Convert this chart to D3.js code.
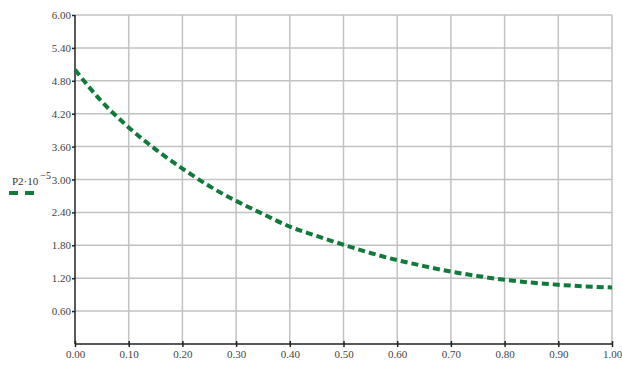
<!DOCTYPE html>
<html>
<head>
<meta charset="utf-8">
<script src="https://cdn.jsdelivr.net/npm/d3@7"></script>
<style>
  html, body { margin: 0; padding: 0; background: #fff; }
  svg { display: block; }
  .tick text { font-family: "Liberation Serif", "DejaVu Serif", serif; font-size: 11px; fill: #444; }
</style>
</head>
<body>
<svg id="chart" width="622" height="365"></svg>
<script>
// Argument values and the P2 series (scaled by 10^-5)
const xValues = [0.00, 0.05, 0.10, 0.15, 0.20, 0.25, 0.30, 0.35, 0.40, 0.45, 0.50,
                 0.55, 0.60, 0.65, 0.70, 0.75, 0.80, 0.85, 0.90, 0.95, 1.00];
const p2Values = [5.00, 4.42, 3.95, 3.55, 3.20, 2.88, 2.61, 2.37, 2.14, 1.97, 1.81,
                  1.66, 1.53, 1.42, 1.32, 1.24, 1.17, 1.12, 1.08, 1.05, 1.03];
const xTicks = [0.00, 0.10, 0.20, 0.30, 0.40, 0.50, 0.60, 0.70, 0.80, 0.90, 1.00];
const yTicks = [0.60, 1.20, 1.80, 2.40, 3.00, 3.60, 4.20, 4.80, 5.40, 6.00];
const legendLabel = "P2·10";
const legendExponent = "−5";

const svg = d3.select("#chart");
const plot = { left: 75, right: 612, top: 15, bottom: 344 };

const x = d3.scaleLinear().domain([0, 1]).range([plot.left, plot.right]);
const y = d3.scaleLinear().domain([0, 6]).range([plot.bottom, plot.top]);

const gridColor = "#c2c2c2";
const lineColor = "#0f7a3a";

// grid
const grid = svg.append("g");
grid.selectAll("line.v").data(xTicks.filter(d => d > 0)).enter().append("line")
  .attr("x1", d => x(d)).attr("x2", d => x(d))
  .attr("y1", y(0)).attr("y2", y(6))
  .attr("stroke", gridColor).attr("stroke-width", 1.5);
grid.selectAll("line.h").data(yTicks).enter().append("line")
  .attr("x1", x(0)).attr("x2", x(1))
  .attr("y1", d => y(d)).attr("y2", d => y(d))
  .attr("stroke", gridColor).attr("stroke-width", 1.5);

// axes
const yAxis = svg.append("g")
  .attr("transform", `translate(${plot.left},0)`)
  .call(d3.axisLeft(y).tickValues(yTicks).tickFormat(d3.format(".2f")).tickSize(3).tickPadding(1));
const xAxis = svg.append("g")
  .attr("transform", `translate(0,${plot.bottom})`)
  .call(d3.axisBottom(x).tickValues(xTicks).tickFormat(d3.format(".2f")).tickSize(3).tickPadding(3));
[xAxis, yAxis].forEach(a => {
  a.select(".domain").attr("stroke", "#222").attr("stroke-width", 1.5);
  a.selectAll(".tick line").attr("stroke", "#222").attr("stroke-width", 1.5);
});
yAxis.select(".domain").attr("d", `M0,${plot.bottom}V${plot.top}`);
xAxis.select(".domain").attr("d", `M${plot.left},0H${plot.right}`);
xAxis.selectAll(".tick line").attr("y1", -3).attr("y2", 3);

// curve
const line = d3.line()
  .x((d, i) => x(xValues[i]))
  .y(d => y(d))
  .curve(d3.curveMonotoneX);
svg.append("path")
  .datum(p2Values)
  .attr("d", line)
  .attr("fill", "none")
  .attr("stroke", lineColor)
  .attr("stroke-width", 4)
  .attr("stroke-dasharray", "7,4");

// legend
const legend = svg.append("g");
const lt = legend.append("text")
  .attr("x", 12).attr("y", 185)
  .attr("font-family", "'Liberation Serif', 'DejaVu Serif', serif")
  .attr("font-size", 11).attr("fill", "#333");
lt.append("tspan").text(legendLabel);
lt.append("tspan").attr("dx", 2).attr("dy", -6).attr("font-size", 10).text(legendExponent);
legend.append("line")
  .attr("x1", 9).attr("x2", 36).attr("y1", 193).attr("y2", 193)
  .attr("stroke", lineColor).attr("stroke-width", 4)
  .attr("stroke-dasharray", "9,7");
</script>
</body>
</html>
